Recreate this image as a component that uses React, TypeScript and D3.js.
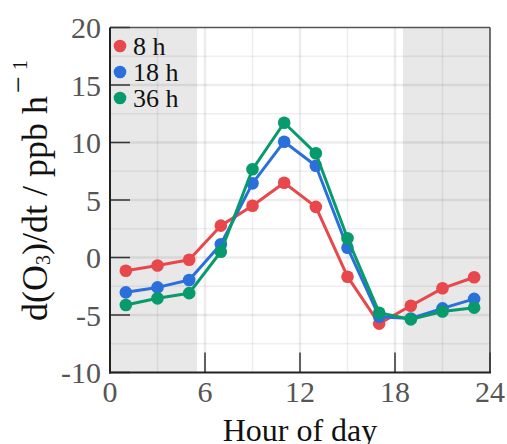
import React from "react";
import * as d3 from "d3";

const hours = [1, 3, 5, 7, 9, 11, 13, 15, 17, 19, 21, 23];
const series8h = [-1.15, -0.7, -0.2, 2.77, 4.5, 6.5, 4.4, -1.67, -5.75, -4.2, -2.68, -1.72];
const series18h = [-3.03, -2.6, -1.96, 1.15, 6.45, 10.07, 7.98, 0.85, -5.15, -5.3, -4.42, -3.6];
const series36h = [-4.13, -3.55, -3.1, 0.5, 7.67, 11.72, 9.06, 1.67, -4.8, -5.38, -4.7, -4.36];
const seriesNames = ["8 h", "18 h", "36 h"];
const seriesColors = ["#e8474b", "#2a6fdb", "#079a6c"];
const xTicks = [0, 6, 12, 18, 24];
const yTicks = [-10, -5, 0, 5, 10, 15, 20];
const xMinorGrid = [3, 9, 15, 21];
const yMinorGrid = [-7.5, -2.5, 2.5, 7.5, 12.5, 17.5];
const nightShades: [number, number][] = [[0, 5.5], [18.5, 24]];

const W = 507, H = 444;
const L = 110, R = 490, T = 27.5, B = 372.5;
const FONT = "Liberation Serif";

export default function App() {
  const x = d3.scaleLinear().domain([0, 24]).range([L, R]);
  const y = d3.scaleLinear().domain([-10, 20]).range([B, T]);
  const all = [series8h, series18h, series36h];
  const line = d3.line<number>().x((_, i) => x(hours[i])).y((d) => y(d));
  return (
    <svg width={W} height={H} fontFamily={FONT} style={{ position: "absolute", left: 0, top: 0 }}>
      <rect x={0} y={0} width={W} height={H} fill="#fff" />
      {nightShades.map(([a, b], i) => (
        <rect key={i} x={x(a)} y={T} width={x(b) - x(a)} height={B - T} fill="#e8e8e8" />
      ))}
      {xMinorGrid.map((v) => (
        <line key={"xm" + v} x1={x(v)} x2={x(v)} y1={T} y2={B} stroke="rgba(0,0,0,0.065)" strokeWidth={1.5} />
      ))}
      {yMinorGrid.map((v) => (
        <line key={"ym" + v} x1={L} x2={R} y1={y(v)} y2={y(v)} stroke="rgba(0,0,0,0.065)" strokeWidth={1.5} />
      ))}
      {xTicks.slice(1, -1).map((v) => (
        <line key={"xg" + v} x1={x(v)} x2={x(v)} y1={T} y2={B} stroke="rgba(0,0,0,0.075)" strokeWidth={2.5} />
      ))}
      {yTicks.slice(1, -1).map((v) => (
        <line key={"yg" + v} x1={L} x2={R} y1={y(v)} y2={y(v)} stroke="rgba(0,0,0,0.075)" strokeWidth={2.5} />
      ))}
      {/* border */}
      <line x1={L} x2={R} y1={T} y2={T} stroke="#555" strokeWidth={1.5} />
      <line x1={R} x2={R} y1={T} y2={B} stroke="#444" strokeWidth={1.5} />
      {/* ticks */}
      {yTicks.map((v) => (
        <line key={"yt" + v} x1={L} x2={L + 20} y1={y(v)} y2={y(v)} stroke="#333" strokeWidth={1.5} />
      ))}
      {xTicks.map((v) => (
        <line key={"xt" + v} x1={x(v)} x2={x(v)} y1={B} y2={B - 20} stroke="#333" strokeWidth={1.5} />
      ))}
      <line x1={L} x2={L} y1={T} y2={B + 1} stroke="#222" strokeWidth={2} />
      <line x1={L - 1} x2={R + 1} y1={B} y2={B} stroke="#222" strokeWidth={2} />
      {/* series */}
      {all.map((s, k) => (
        <g key={k}>
          <path d={line(s) || ""} fill="none" stroke={seriesColors[k]} strokeWidth={3} strokeLinejoin="round" />
          {s.map((v, i) => (
            <circle key={i} cx={x(hours[i])} cy={y(v)} r={6.3} fill={seriesColors[k]} />
          ))}
        </g>
      ))}
      {/* tick labels */}
      {yTicks.map((v) => (
        <text key={"yl" + v} x={101} y={y(v)} dy="0.35em" textAnchor="end" fontSize={30} fill="#555" fontFamily={FONT}>
          {v < 0 ? "-" + Math.abs(v) : String(v)}
        </text>
      ))}
      {xTicks.map((v) => (
        <text key={"xl" + v} x={x(v)} y={402} textAnchor="middle" fontSize={30} fill="#555" fontFamily={FONT}>
          {v}
        </text>
      ))}
      <text x={300} y={441} textAnchor="middle" fontSize={32} fill="#111" fontFamily={FONT}>Hour of day</text>
      <text transform="translate(47, 321) rotate(-90)" textAnchor="start" fontSize={36} fill="#111" fontFamily={FONT}>
        d(O<tspan fontSize={20} dy={3}>3</tspan><tspan dy={-3}>)/dt / ppb h</tspan>
        <tspan fontSize={30} dx={3} dy={-19}>−</tspan>
        <tspan fontSize={20} dx={6} dy={-1}>1</tspan>
      </text>
      {/* legend */}
      {seriesNames.map((n, k) => (
        <g key={n}>
          <circle cx={120} cy={46 + k * 26} r={6.3} fill={seriesColors[k]} />
          <text x={133} y={55 + k * 26} fontSize={26} fill="#111" fontFamily={FONT}>{n}</text>
        </g>
      ))}
    </svg>
  );
}
